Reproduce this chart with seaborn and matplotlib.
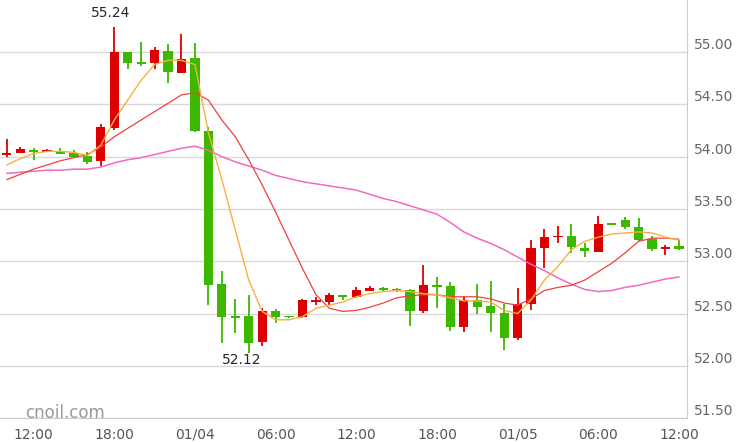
import numpy as np
import pandas as pd
import matplotlib
matplotlib.use("Agg")
import matplotlib.pyplot as plt
import matplotlib.transforms as mtransforms
import seaborn as sns

# hourly candles, 01/03 10:00 .. 01/05 12:00
opens = [54.016, 54.037, 54.063, 54.047, 54.053, 54.034, 54.006, 53.961, 54.278, 55.000,
         54.904, 54.898, 55.010, 54.802, 54.943, 54.245, 52.782, 52.479, 52.476, 52.225,
         52.524, 52.476, 52.469, 52.610, 52.613, 52.677, 52.660, 52.718, 52.741, 52.734,
         52.725, 52.527, 52.772, 52.763, 52.374, 52.629, 52.572, 52.502, 52.269, 52.588,
         53.123, 53.228, 53.241, 53.123, 53.091, 53.356, 53.394, 53.324, 53.209, 53.117,
         53.145]
closes = [54.035, 54.073, 54.047, 54.063, 54.028, 53.999, 53.951, 54.280, 54.997, 54.890,
          54.888, 55.019, 54.810, 54.933, 54.245, 52.772, 52.469, 52.460, 52.220, 52.524,
          52.469, 52.467, 52.629, 52.629, 52.677, 52.660, 52.725, 52.744, 52.725, 52.715,
          52.527, 52.772, 52.756, 52.374, 52.629, 52.565, 52.508, 52.269, 52.588, 53.123,
          53.228, 53.244, 53.133, 53.100, 53.356, 53.349, 53.324, 53.203, 53.117, 53.139,
          53.117]
highs = [54.168, 54.092, 54.079, 54.075, 54.080, 54.060, 54.047, 54.312, 55.240, 55.000,
         55.098, 55.050, 55.076, 55.175, 55.089, 54.280, 52.906, 52.640, 52.677, 52.555,
         52.543, 52.480, 52.635, 52.655, 52.693, 52.677, 52.756, 52.760, 52.755, 52.740,
         52.731, 52.964, 52.852, 52.801, 52.667, 52.782, 52.810, 52.588, 52.741, 53.203,
         53.305, 53.336, 53.356, 53.171, 53.432, 53.360, 53.420, 53.413, 53.241, 53.155,
         53.200]
lows = [53.996, 54.032, 53.970, 54.040, 54.028, 53.999, 53.926, 53.913, 54.254, 54.837,
        54.866, 54.837, 54.706, 54.802, 54.235, 52.580, 52.220, 52.310, 52.120, 52.190,
        52.412, 52.460, 52.460, 52.581, 52.581, 52.629, 52.645, 52.715, 52.720, 52.705,
        52.380, 52.508, 52.555, 52.336, 52.326, 52.495, 52.326, 52.151, 52.247, 52.533,
        52.938, 53.177, 53.076, 53.037, 53.091, 53.349, 53.305, 53.190, 53.100, 53.059,
        53.110]
ma_fast = [53.92, 53.98, 54.03, 54.05, 54.05, 54.04, 54.01, 54.11, 54.35, 54.54,
           54.73, 54.88, 54.92, 54.92, 54.88, 54.23, 53.78, 53.30, 52.82, 52.52,
           52.44, 52.44, 52.47, 52.55, 52.58, 52.61, 52.66, 52.69, 52.71, 52.72,
           52.71, 52.69, 52.68, 52.65, 52.62, 52.62, 52.61, 52.53, 52.50, 52.63,
           52.82, 52.95, 53.11, 53.19, 53.23, 53.26, 53.27, 53.28, 53.27, 53.23,
           53.20]
ma_mid = [53.78, 53.83, 53.88, 53.92, 53.96, 53.99, 54.02, 54.09, 54.19, 54.27,
          54.35, 54.43, 54.51, 54.59, 54.61, 54.54, 54.35, 54.19, 53.97, 53.73,
          53.47, 53.20, 52.93, 52.68, 52.55, 52.52, 52.53, 52.56, 52.60, 52.65,
          52.67, 52.68, 52.68, 52.66, 52.66, 52.66, 52.64, 52.60, 52.58, 52.64,
          52.72, 52.75, 52.77, 52.82, 52.90, 52.98, 53.08, 53.19, 53.22, 53.22,
          53.21]
ma_slow = [53.84, 53.85, 53.86, 53.87, 53.87, 53.88, 53.88, 53.90, 53.94, 53.97,
           53.99, 54.02, 54.05, 54.08, 54.10, 54.06, 54.00, 53.95, 53.91, 53.87,
           53.82, 53.79, 53.76, 53.74, 53.72, 53.70, 53.68, 53.64, 53.60, 53.57,
           53.53, 53.49, 53.45, 53.37, 53.28, 53.22, 53.17, 53.11, 53.04, 52.97,
           52.91, 52.84, 52.78, 52.73, 52.71, 52.72, 52.75, 52.77, 52.80, 52.83,
           52.85]
tick_pos = [2, 8, 14, 20, 26, 32, 38, 44, 50]
tick_labels = ["12:00", "18:00", "01/04", "06:00", "12:00", "18:00", "01/05", "06:00", "12:00"]
y_levels = [51.5, 52.0, 52.5, 53.0, 53.5, 54.0, 54.5, 55.0]

df = pd.DataFrame({"i": np.arange(len(opens)), "open": opens, "close": closes,
                   "high": highs, "low": lows, "fast": ma_fast, "mid": ma_mid, "slow": ma_slow})

sns.set_style("white")
plt.rcParams['font.family'] = ['DejaVu Sans']
fig = plt.figure(figsize=(7.37, 4.42), dpi=100)
ax = fig.add_axes([0, 0.054, 687 / 737, 0.946])

for y in y_levels:
    ax.axhline(y, color="#d9d9d9", lw=1, zorder=0)

up = "#dd0000"
down = "#3cb800"
for _, r in df.iterrows():
    c = up if r["close"] >= r["open"] else down
    ax.vlines(r["i"], r["low"], r["high"], color=c, lw=1.3, zorder=2)
    lo, hi = min(r["open"], r["close"]), max(r["open"], r["close"])
    ax.bar(r["i"], max(hi - lo, 0.012), bottom=lo, width=0.68, color=c, zorder=3, linewidth=0)

sns.lineplot(data=df, x="i", y="slow", ax=ax, color="#f06ac0", lw=1.1, zorder=4)
sns.lineplot(data=df, x="i", y="mid", ax=ax, color="#f04040", lw=0.9, zorder=4)
sns.lineplot(data=df, x="i", y="fast", ax=ax, color="#f8b040", lw=1.0, zorder=4)

ax.set_xlim(-0.5, 50.6)
ax.set_ylim(51.5, 55.497)
ax.set_xlabel("")
ax.set_ylabel("")
ax.set_yticks([])
ax.set_xticks(tick_pos)
ax.set_xticklabels(tick_labels, color="#555555", fontsize=10)
ax.tick_params(axis="x", length=5, color="#aaaaaa", pad=2)
for s in ["top", "left"]:
    ax.spines[s].set_visible(False)
ax.spines["bottom"].set_color("#cccccc")
ax.spines["right"].set_color("#cccccc")

trans = mtransforms.blended_transform_factory(fig.transFigure, ax.transData)
for y in y_levels:
    ax.text(733 / 737, y + 0.065, f"{y:.2f}", transform=trans, ha="right", va="center",
            color="#666666", fontsize=10, clip_on=False)

hi_i = int(np.argmax(highs))
lo_i = int(np.argmin(lows))
ax.text(hi_i - 0.3, highs[hi_i] + 0.13, f"{highs[hi_i]:.2f}", ha="center", va="center", fontsize=10)
ax.text(lo_i - 0.5, lows[lo_i] - 0.06, f"{lows[lo_i]:.2f}", ha="center", va="center", fontsize=10)
ax.text(25 / 687, 52.13 - 0.6 + 0.02, "cnoil.com", transform=mtransforms.blended_transform_factory(ax.transAxes, ax.transData),
        color="#999999", fontsize=12, ha="left", va="center")

fig.savefig("out.png", dpi=100)
